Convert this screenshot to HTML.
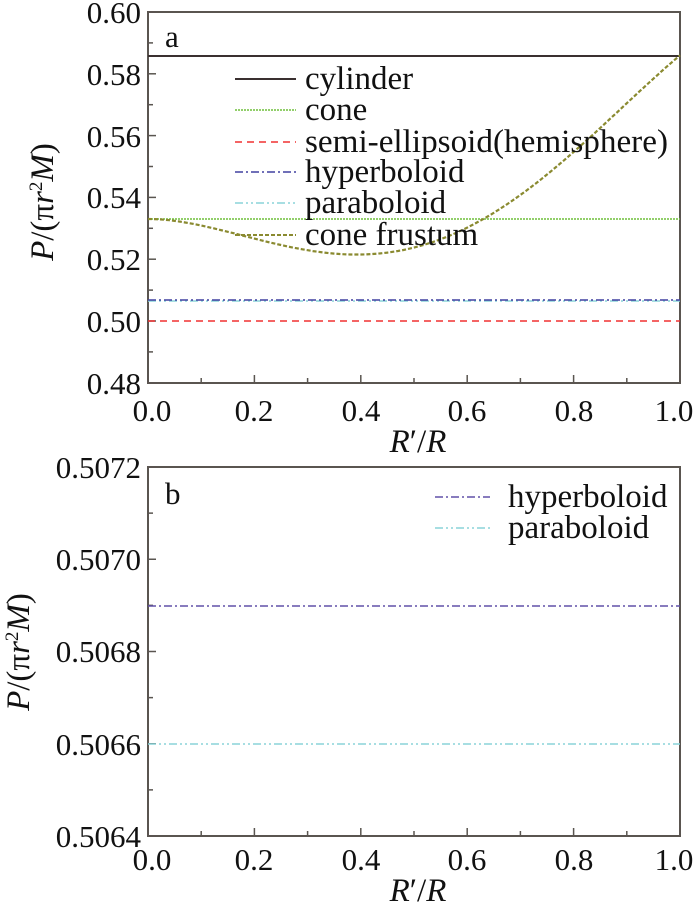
<!DOCTYPE html>
<html><head><meta charset="utf-8"><style>
body{margin:0;background:#fff;}
svg text{font-family:"Liberation Serif","Times New Roman","DejaVu Serif",serif;fill:#111;}
</style></head><body>
<svg id="s" width="700" height="905" xmlns="http://www.w3.org/2000/svg" font-family="Liberation Serif, DejaVu Serif, serif">
<g font-size="31">
<rect x="148" y="12" width="532" height="371" fill="none" stroke="#5a5550" stroke-width="2"/>
<rect x="148" y="467" width="532" height="369" fill="none" stroke="#5a5550" stroke-width="2"/>
<g id="ticks" stroke="#5a5550" stroke-width="1.5"></g>
<g text-anchor="end">
<text x="141" y="23">0.60</text><text x="141" y="85">0.58</text><text x="141" y="147">0.56</text>
<text x="141" y="208">0.54</text><text x="141" y="270">0.52</text><text x="141" y="332">0.50</text>
<text x="141" y="394">0.48</text>
<text x="141" y="478">0.5072</text><text x="141" y="570">0.5070</text><text x="141" y="662">0.5068</text>
<text x="141" y="755">0.5066</text><text x="141" y="847">0.5064</text>
</g>
<g text-anchor="middle">
<text x="152" y="421">0.0</text><text x="254" y="421">0.2</text><text x="361" y="421">0.4</text>
<text x="467" y="421">0.6</text><text x="574" y="421">0.8</text><text x="674" y="421">1.0</text>
<text x="152" y="870">0.0</text><text x="254" y="870">0.2</text><text x="361" y="870">0.4</text>
<text x="467" y="870">0.6</text><text x="574" y="870">0.8</text><text x="674" y="870">1.0</text>
<text x="418" y="452" font-size="33" font-style="italic">R<tspan font-style="normal">′/</tspan>R</text>
<text x="418" y="901" font-size="33" font-style="italic">R<tspan font-style="normal">′/</tspan>R</text>
</g>
<text transform="translate(53,202) rotate(-90)" text-anchor="middle" font-size="33"><tspan font-style="italic">P</tspan>/(π<tspan font-style="italic">r</tspan><tspan font-size="19" dy="-11">2</tspan><tspan dy="11" font-style="italic">M</tspan>)</text>
<text transform="translate(29,652) rotate(-90)" text-anchor="middle" font-size="33"><tspan font-style="italic">P</tspan>/(π<tspan font-style="italic">r</tspan><tspan font-size="19" dy="-11">2</tspan><tspan dy="11" font-style="italic">M</tspan>)</text>
<text x="165" y="47">a</text>
<text x="165" y="504">b</text>
</g>
<line x1="148" y1="56" x2="680" y2="56" stroke="#3a3030" stroke-width="2"/>
<line x1="148" y1="219" x2="680" y2="219" stroke="#6fbf3a" stroke-width="1.5" stroke-dasharray="2,1"/>
<line x1="148" y1="321" x2="680" y2="321" stroke="#f03030" stroke-width="1.5" stroke-dasharray="7,5"/>
<line x1="148" y1="301" x2="680" y2="301" stroke="#8ad4d8" stroke-width="1.5" stroke-dasharray="8,3,2,3,2,3"/>
<line x1="148" y1="300" x2="680" y2="300" stroke="#4040a0" stroke-width="1.5" stroke-dasharray="8,3,2,3"/>
<path id="fr" fill="none" stroke="#8a8a30" stroke-width="2.2" stroke-dasharray="4,2"/>
<g font-size="33">
<line x1="235" y1="79" x2="296" y2="79" stroke="#3a3030" stroke-width="2"/><text x="305" y="89">cylinder</text>
<line x1="235" y1="110" x2="296" y2="110" stroke="#6fbf3a" stroke-width="1.5" stroke-dasharray="2,1"/><text x="305" y="120">cone</text>
<line x1="235" y1="142" x2="296" y2="142" stroke="#f03030" stroke-width="1.5" stroke-dasharray="7,5"/><text x="305" y="152" textLength="363" lengthAdjust="spacingAndGlyphs">semi-ellipsoid(hemisphere)</text>
<line x1="235" y1="172" x2="296" y2="172" stroke="#4040a0" stroke-width="1.5" stroke-dasharray="8,3,2,3"/><text x="305" y="182">hyperboloid</text>
<line x1="235" y1="203" x2="296" y2="203" stroke="#8ad4d8" stroke-width="1.5" stroke-dasharray="8,3,2,3,2,3"/><text x="305" y="213">paraboloid</text>
<line x1="235" y1="235" x2="296" y2="235" stroke="#8a8a30" stroke-width="2" stroke-dasharray="4,2"/><text x="305" y="245">cone frustum</text>
</g>
<line x1="148" y1="606" x2="680" y2="606" stroke="#6050a8" stroke-width="1.5" stroke-dasharray="8,3,2,3"/>
<line x1="148" y1="744" x2="680" y2="744" stroke="#8ad4d8" stroke-width="1.5" stroke-dasharray="8,3,2,3,2,3"/>
<g font-size="33">
<line x1="435" y1="497" x2="490" y2="497" stroke="#6050a8" stroke-width="1.5" stroke-dasharray="8,3,2,3"/><text x="508" y="507">hyperboloid</text>
<line x1="435" y1="528" x2="490" y2="528" stroke="#8ad4d8" stroke-width="1.5" stroke-dasharray="8,3,2,3,2,3"/><text x="508" y="538">paraboloid</text>
</g>
</svg>
<script>
var t=document.getElementById('ticks'),h='';
for(var i=0;i<=10;i++){var x=148+53.2*i,L=i%2?5:8;
h+='<line x1="'+x+'" y1="383" x2="'+x+'" y2="'+(383-L)+'"/>';
h+='<line x1="'+x+'" y1="836" x2="'+x+'" y2="'+(836-L)+'"/>';}
for(var i=0;i<=12;i++){var y=12+30.9*i,L=i%2?5:8;h+='<line x1="148" y1="'+y+'" x2="'+(148+L)+'" y2="'+y+'"/>';}
for(var i=0;i<=8;i++){var y=467+46.125*i,L=i%2?5:8;h+='<line x1="148" y1="'+y+'" x2="'+(148+L)+'" y2="'+y+'"/>';}
t.innerHTML=h;
var d='';for(var i=0;i<=100;i++){var u=i/100,v=0.533-0.2674*u*u+0.6015*u*u*u-0.2811*u*u*u*u;
d+=(i?'L':'M')+(148+532*u).toFixed(1)+','+(12+(0.6-v)/0.02*61.8).toFixed(1);}
document.getElementById('fr').setAttribute('d',d);
</script>
</body></html>
